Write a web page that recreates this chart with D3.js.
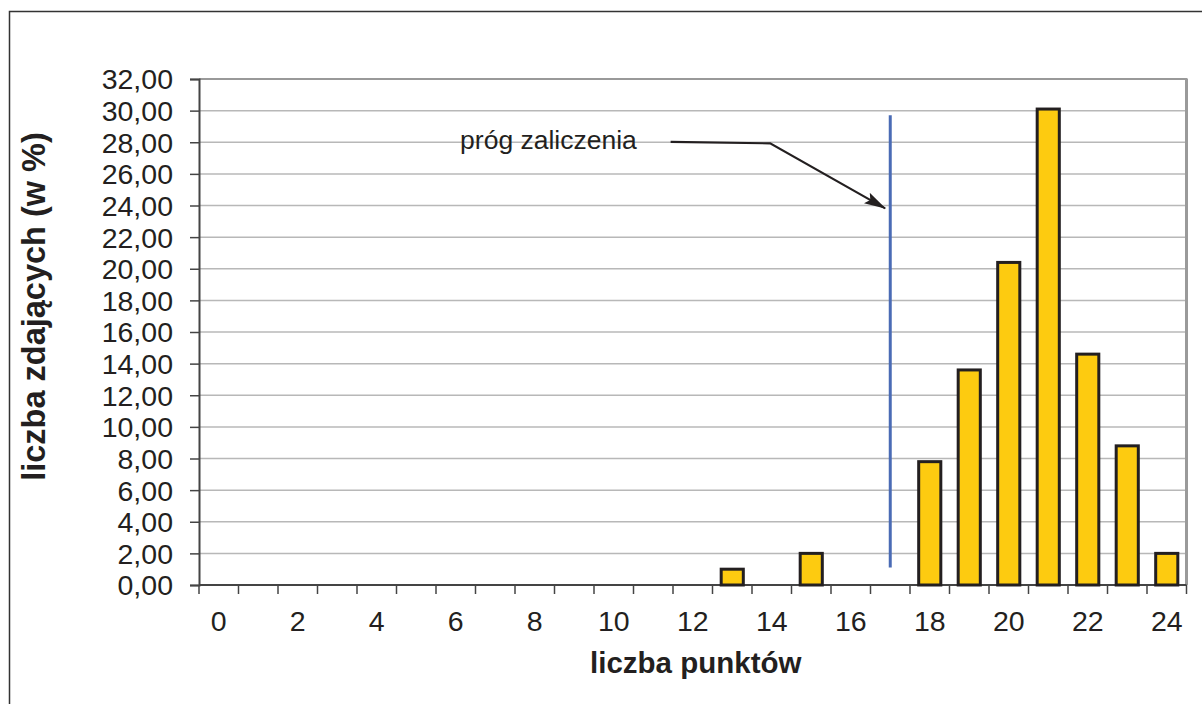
<!DOCTYPE html>
<html>
<head>
<meta charset="utf-8">
<script src="https://cdn.jsdelivr.net/npm/d3@7"></script>
<style>
  html, body { margin: 0; padding: 0; background: #fff; }
  svg { display: block; }
  text { font-family: "Liberation Sans", Arial, sans-serif; fill: #231f20; }
</style>
</head>
<body>
<svg id="chart" width="1202" height="704"></svg>
<script>
// ---- data ----
const categories = d3.range(0, 25);               // liczba punktów 0..24
const values = [0,0,0,0,0,0,0,0,0,0,0,0,0,1.0,0,2.0,0,0,7.8,13.6,20.4,30.1,14.6,8.8,2.0];
const yTicks = d3.range(0, 33, 2);
const xTickLabels = d3.range(0, 25, 2);
const thresholdCategory = 17;
const thresholdExtent = [1.1, 29.7];
const annotationText = "próg zaliczenia";
const annotationTextPos = [6.11, 27.55];
const arrowPath = [[11.44, 28.03], [13.96, 27.93], [16.87, 23.82]];
const yTitle = "liczba zdających (w %)";
const xTitle = "liczba punktów";

// ---- layout ----
const svg = d3.select("#chart");
const plotL = 199, plotR = 1186.5, plotT = 79, plotB = 585;

const x = d3.scaleBand().domain(categories).range([plotL, plotR]).paddingInner(0.44).paddingOuter(0.22);
const xc = d3.scaleLinear().domain([-0.5, 24.5]).range([plotL, plotR]);
const y = d3.scaleLinear().domain([0, 32]).range([plotB, plotT]);

// outer frame
svg.append("rect").attr("x", 9.5).attr("y", 11.5).attr("width", 1300).attr("height", 800)
  .attr("fill", "none").attr("stroke", "#333").attr("stroke-width", 1.5);

// gridlines
svg.append("g").selectAll("line").data(yTicks.filter(d => d > 0 && d < 32)).join("line")
  .attr("x1", plotL).attr("x2", plotR).attr("y1", d => y(d)).attr("y2", d => y(d))
  .attr("stroke", "#b8b8b8").attr("stroke-width", 1.5);

// top & right plot border
svg.append("line").attr("x1", plotL).attr("x2", plotR + 1).attr("y1", y(32)).attr("y2", y(32))
  .attr("stroke", "#999").attr("stroke-width", 2.2);
svg.append("line").attr("x1", plotR).attr("x2", plotR).attr("y1", y(32)).attr("y2", plotB)
  .attr("stroke", "#9a9a9a").attr("stroke-width", 3);

// y axis
const yAxis = d3.axisLeft(y).tickValues(yTicks).tickSize(9).tickPadding(17)
  .tickFormat(d => d3.format(".2f")(d).replace(".", ","));
const gy = svg.append("g").attr("transform", `translate(${plotL},0)`).call(yAxis);
gy.select(".domain").attr("stroke", "#444").attr("stroke-width", 2);
gy.selectAll(".tick line").attr("stroke", "#444").attr("stroke-width", 1.5);
gy.selectAll(".tick text").attr("font-size", 28.5).attr("fill", "#231f20")
  .attr("font-family", "Liberation Sans, Arial, sans-serif").attr("dy", "0.35em");

// x axis baseline & ticks at band boundaries
svg.append("line").attr("x1", plotL).attr("x2", plotR).attr("y1", plotB).attr("y2", plotB)
  .attr("stroke", "#444").attr("stroke-width", 2);
const boundaries = categories.map(c => xc(c - 0.5)).concat([xc(24.5)]);
svg.append("g").selectAll("line").data(boundaries).join("line")
  .attr("x1", d => d).attr("x2", d => d).attr("y1", plotB).attr("y2", plotB + 9)
  .attr("stroke", "#444").attr("stroke-width", 1.5);
svg.append("g").selectAll("text").data(xTickLabels).join("text")
  .attr("x", d => x(d) + x.bandwidth() / 2).attr("y", 631)
  .attr("text-anchor", "middle").attr("font-size", 28.5).text(d => d);

// bars
svg.append("g").selectAll("rect").data(categories.filter(c => values[c] > 0)).join("rect")
  .attr("x", c => x(c)).attr("width", x.bandwidth())
  .attr("y", c => y(values[c])).attr("height", c => y(0) - y(values[c]))
  .attr("fill", "#fdcb10").attr("stroke", "#231f20").attr("stroke-width", 3);

// threshold line
svg.append("line")
  .attr("x1", xc(thresholdCategory)).attr("x2", xc(thresholdCategory))
  .attr("y1", y(thresholdExtent[0])).attr("y2", y(thresholdExtent[1]))
  .attr("stroke", "#4a6bb5").attr("stroke-width", 3);

// annotation
svg.append("defs").append("marker").attr("id", "ah")
  .attr("viewBox", "0 0 22 12").attr("refX", 21).attr("refY", 6)
  .attr("markerWidth", 22).attr("markerHeight", 12).attr("markerUnits", "userSpaceOnUse")
  .attr("orient", "auto")
  .append("path").attr("d", "M0,0 L22,6 L0,12 L4,6 Z").attr("fill", "#231f20");
svg.append("path")
  .attr("d", d3.line().x(d => xc(d[0])).y(d => y(d[1]))(arrowPath))
  .attr("fill", "none").attr("stroke", "#231f20").attr("stroke-width", 2.2)
  .attr("marker-end", "url(#ah)");
svg.append("text").attr("x", xc(annotationTextPos[0])).attr("y", y(annotationTextPos[1]))
  .attr("font-size", 26.5).text(annotationText);

// axis titles
svg.append("text").attr("x", (plotL + plotR) / 2 + 3).attr("y", 673)
  .attr("text-anchor", "middle").attr("font-size", 29.5).attr("font-weight", "bold").text(xTitle);
svg.append("text").attr("transform", "translate(45,306.5) rotate(-90)")
  .attr("text-anchor", "middle").attr("font-size", 32.5).attr("font-weight", "bold").text(yTitle);
</script>
</body>
</html>
